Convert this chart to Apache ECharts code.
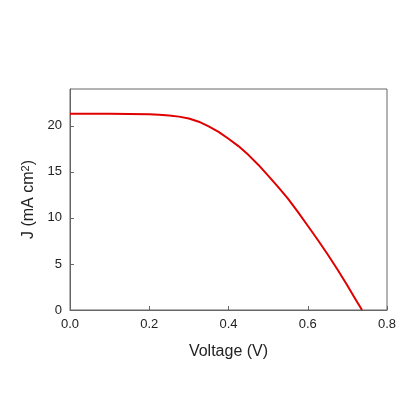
<!DOCTYPE html>
<html>
<head>
<meta charset="utf-8">
<script src="https://cdn.jsdelivr.net/npm/echarts@6/dist/echarts.min.js"></script>
<style>
  html, body { margin: 0; padding: 0; background: #fff; }
  #chart { width: 415px; height: 415px; }
</style>
</head>
<body>
<div id="chart"></div>
<script>
// J-V curve
const voltage = [0, 0.1, 0.15, 0.2, 0.225, 0.25, 0.275, 0.3, 0.325, 0.35, 0.375, 0.4, 0.425, 0.45, 0.475,
  0.5, 0.525, 0.55, 0.575, 0.6, 0.625, 0.65, 0.675, 0.7, 0.72, 0.737];
const current = [21.3, 21.3, 21.28, 21.25, 21.2, 21.12, 21.0, 20.8, 20.45, 19.95, 19.35, 18.6, 17.8, 16.85, 15.78,
  14.6, 13.38, 12.1, 10.65, 9.15, 7.63, 6.05, 4.4, 2.65, 1.2, 0];

const chart = echarts.init(document.getElementById('chart'));

const axisColor = '#666';
const font = 'Liberation Sans, Arial, sans-serif';

chart.setOption({
  animation: false,
  grid: {
    left: 70, top: 89, right: 28, bottom: 105,
    show: true, borderColor: axisColor, borderWidth: 1
  },
  xAxis: {
    type: 'value', min: 0, max: 0.8, interval: 0.2,
    name: 'Voltage (V)', nameLocation: 'middle', nameGap: 34,
    nameTextStyle: { fontFamily: font, fontSize: 16, color: '#222' },
    axisLine: { show: true, lineStyle: { color: axisColor } },
    axisTick: { show: true, inside: true, length: 4, lineStyle: { color: axisColor } },
    axisLabel: { fontFamily: font, fontSize: 13, color: '#222', margin: 8,
      formatter: v => v.toFixed(1) },
    splitLine: { show: false }
  },
  yAxis: {
    type: 'value', min: 0, max: 24, interval: 5,
    name: '{a|J (mA cm}{s|2}{a|)}', nameLocation: 'middle', nameGap: 31, nameRotate: 90,
    nameTextStyle: {
      fontFamily: font, fontSize: 16, color: '#222',
      rich: {
        a: { fontFamily: font, fontSize: 16, color: '#222' },
        s: { fontFamily: font, fontSize: 11, color: '#222', verticalAlign: 'top', padding: [0, 0, 6, 0] }
      }
    },
    axisLine: { show: true, lineStyle: { color: axisColor } },
    axisTick: { show: true, inside: true, length: 4, lineStyle: { color: axisColor } },
    axisLabel: { fontFamily: font, fontSize: 13, color: '#222', margin: 8, showMaxLabel: false },
    splitLine: { show: false }
  },
  series: [{
    type: 'line',
    data: voltage.map((v, i) => [v, current[i]]),
    smooth: false,
    showSymbol: false,
    lineStyle: { color: '#e00000', width: 2, join: 'round' }
  }]
});
</script>
</body>
</html>
